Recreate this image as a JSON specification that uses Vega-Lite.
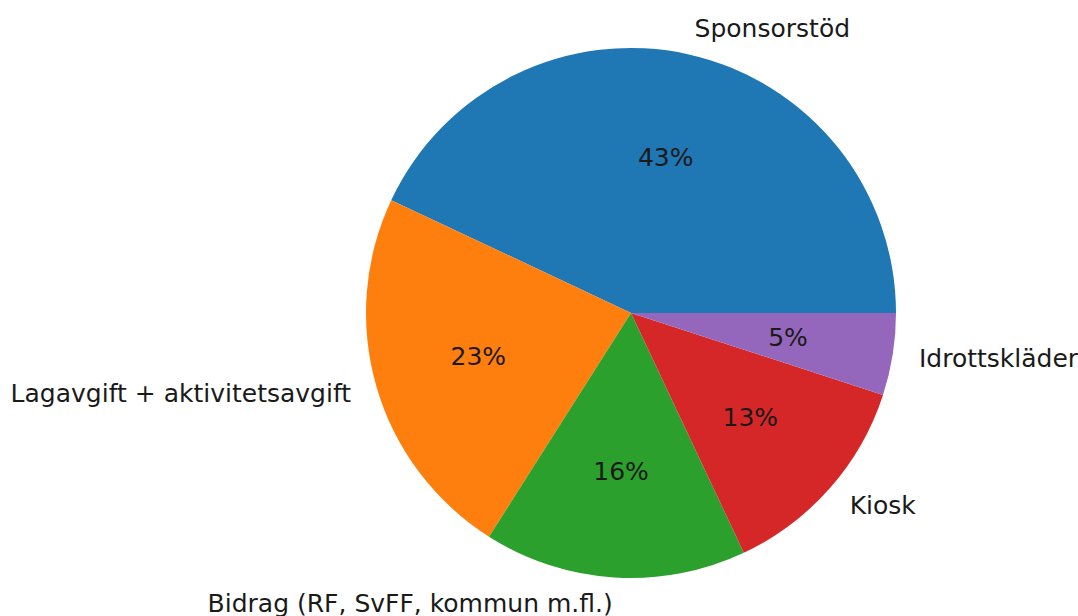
{
  "$schema": "https://vega.github.io/schema/vega-lite/v6.json",
  "autosize": "none",
  "width": 530,
  "height": 530,
  "padding": {"left": 366, "top": 48, "right": 182, "bottom": 38},
  "background": "white",
  "config": {"view": {"stroke": null}, "text": {"font": "DejaVu Sans", "fontSize": 25}},
  "data": {"values": [
    {"label": "Sponsorstöd", "value": 43},
    {"label": "Lagavgift + aktivitetsavgift", "value": 23},
    {"label": "Bidrag (RF, SvFF, kommun m.fl.)", "value": 16},
    {"label": "Kiosk", "value": 13},
    {"label": "Idrottskläder", "value": 5}
  ]},
  "transform": [
    {"window": [{"op": "row_number", "as": "k"}]},
    {"joinaggregate": [{"op": "sum", "field": "value", "as": "total"}]},
    {"calculate": "format(datum.value / datum.total, '.0%')", "as": "pct"}
  ],
  "encoding": {
    "theta": {"field": "value", "type": "quantitative", "stack": true, "scale": {"range": [1.5707963, -4.712389]}},
    "order": {"field": "k", "type": "quantitative"}
  },
  "layer": [
    {
      "mark": {"type": "arc", "outerRadius": 265, "stroke": null},
      "encoding": {
        "color": {"field": "label", "type": "nominal", "sort": null, "legend": null,
          "scale": {"domain": ["Sponsorstöd", "Lagavgift + aktivitetsavgift", "Bidrag (RF, SvFF, kommun m.fl.)", "Kiosk", "Idrottskläder"],
                    "range": ["#1f77b4", "#ff7f0e", "#2ca02c", "#d62728", "#9467bd"]}}
      }
    },
    {
      "mark": {"type": "text", "radius": 159, "align": "center", "baseline": "middle", "color": "#1a1a1a"},
      "encoding": {"text": {"field": "pct"}}
    },
    {
      "mark": {"type": "text", "radius": 291.5, "align": "left", "baseline": "middle", "color": "#1a1a1a"},
      "encoding": {"text": {"condition": {"test": "datum.label == 'Sponsorstöd' || datum.label == 'Kiosk' || datum.label == 'Idrottskläder'", "field": "label"}, "value": ""}}
    },
    {
      "mark": {"type": "text", "radius": 291.5, "align": "right", "baseline": "middle", "color": "#1a1a1a"},
      "encoding": {"text": {"condition": {"test": "datum.label == 'Lagavgift + aktivitetsavgift' || datum.label == 'Bidrag (RF, SvFF, kommun m.fl.)'", "field": "label"}, "value": ""}}
    }
  ]
}
